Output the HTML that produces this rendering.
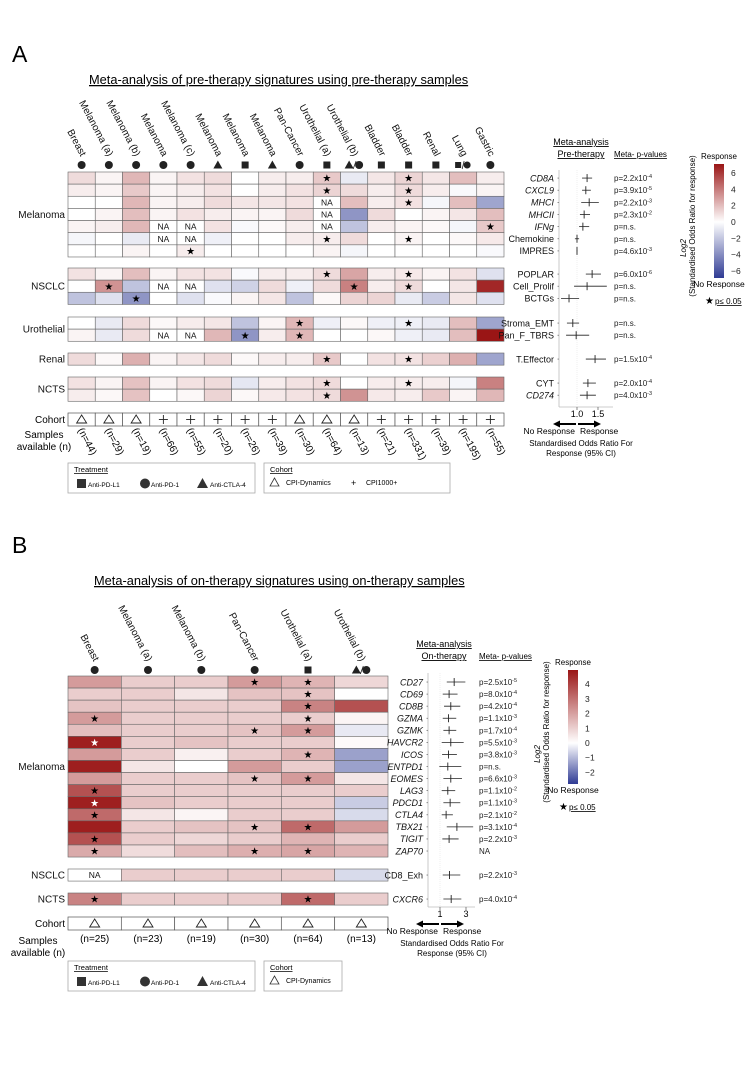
<!DOCTYPE html>
<html><head><meta charset="utf-8">
<style>
html,body{margin:0;padding:0;background:#fff;}
svg{display:block;font-family:"Liberation Sans",sans-serif;}
</style></head>
<body>
<svg id="fig" width="750" height="1083" viewBox="0 0 750 1083" xmlns="http://www.w3.org/2000/svg">
<defs>
<linearGradient id="gradA" x1="0" y1="0" x2="0" y2="1">
<stop offset="0" stop-color="#9a1515"/><stop offset="0.508" stop-color="#ffffff"/><stop offset="1" stop-color="#2f3b94"/>
</linearGradient>
<linearGradient id="gradB" x1="0" y1="0" x2="0" y2="1">
<stop offset="0" stop-color="#9a1515"/><stop offset="0.64" stop-color="#ffffff"/><stop offset="1" stop-color="#2f3b94"/>
</linearGradient>
</defs>
<text x="12" y="62" font-size="23">A</text>
<text x="89" y="84" font-size="12.8" text-decoration="underline">Meta-analysis of pre-therapy signatures  using pre-therapy samples</text>
<text x="12" y="553" font-size="23">B</text>
<text x="94" y="585" font-size="12.8" text-decoration="underline">Meta-analysis of on-therapy signatures  using on-therapy samples</text>
<g id="layer"></g>
</svg>
<script>
// ---------- Panel A data ----------
const colsA = ["Breast","Melanoma (a)","Melanoma (b)","Melanoma","Melanoma (c)","Melanoma","Melanoma","Melanoma","Pan-Cancer","Urothelial (a)","Urothelial (b)","Bladder","Bladder","Renal","Lung","Gastric"];
const treatA = ["c","c","c","c","c","t","s","t","c","s","tc","s","s","s","sc","c"];
const cohortA = ["d","d","d","p","p","p","p","p","d","d","d","p","p","p","p","p"];
const samplesA = [44,29,19,66,55,20,26,39,30,64,13,21,331,39,195,55];
const sigA = ["CD8A","CXCL9","MHCI","MHCII","IFNg","Chemokine","IMPRES","POPLAR","Cell_Prolif","BCTGs","Stroma_EMT","Pan_F_TBRS","T.Effector","CYT","CD274"];
const sigGroupA = [0,0,0,0,0,0,0,1,1,1,2,2,3,4,4];
const groupNamesA = ["Melanoma","NSCLC","Urothelial","Renal","NCTS"];
const heatA = [
[1,0.3,2,0.3,0.8,1,0,0.5,0.5,1.5,-0.7,0.7,1.2,0.7,1.8,0.5],
[0.5,0.3,1.5,0.3,0.5,0.8,0,0.5,0.8,1.2,1,0.5,1,0.5,-0.2,0.3],
[0,0,2,0.3,0.5,1,0.7,0.7,0.8,null,1.8,0.5,0.8,-0.3,1.8,-3],
[0,0.3,1.8,0.3,0.8,0.5,0.3,0.3,1,null,-3.5,1,0,0.3,0.7,1.8],
[0.3,0.5,2,null,null,0.8,-0.2,0.2,0.5,null,-2,0.5,0.3,0.2,-0.3,1.5],
[-0.3,0,-0.7,null,null,-0.5,0,0,0.5,0.5,1,0,0.3,0,0.2,0.6],
[0,0,0.3,0,0.5,0,0,0,0,0.3,-0.3,0,0,0,0,-0.2],
[0.8,0.3,1.8,0.3,0.8,0.8,-0.2,0.5,0.5,1,2.5,0.5,0.6,0.3,0.8,-1],
[0,3,-2,null,null,-1,-1.5,1,-0.5,1,3.5,0.5,1,0,0.7,6],
[-2,-1,-3.5,0,-1,-0.2,0.3,0.7,-2,0.2,1.2,1.2,-0.7,-1.7,0.7,-1],
[0,-0.7,1,0.2,0.5,0.7,-2,0.3,2,-0.5,0.2,-0.5,-0.5,-0.7,1.8,-3],
[0.3,-0.7,1,null,null,2,-3.5,0.5,2,0,0,0.2,-0.5,-0.7,1.8,6.5],
[1,0.2,2.2,0.3,0.7,1,0.2,0.5,0.5,1.5,0,0.8,0.8,1.3,2.2,-3],
[0.8,0.3,1.7,0.3,0.8,1,-0.8,0.5,0.8,1,0,0.5,0.5,0.5,-0.3,3.5],
[0.5,0.2,1.7,0,0.2,1.2,0.2,0.6,0.8,1,3,0.6,0.5,1.5,0.3,2]
];
const starsA = [[9,12],[9,12],[12],[],[15],[9,12],[4],[9,12],[1,10,12],[2],[8,12],[6,8],[9,12],[9,12],[9]];
const forestEstA = [1.24,1.21,1.29,1.17,1.14,1.0,1.0,1.36,1.24,0.81,0.90,0.98,1.43,1.26,1.24];
const forestLoA  = [1.12,1.12,1.10,1.07,1.05,0.95,0.99,1.21,0.93,0.62,0.76,0.74,1.21,1.14,1.07];
const forestHiA  = [1.36,1.33,1.52,1.31,1.29,1.05,1.01,1.57,1.71,1.05,1.05,1.29,1.69,1.45,1.45];
const pA = ["2.2x10^-4","3.9x10^-5","2.2x10^-3","2.3x10^-2","n.s.","n.s.","4.6x10^-3","6.0x10^-6","n.s.","n.s.","n.s.","n.s.","1.5x10^-4","2.0x10^-4","4.0x10^-3"];
const italicA = [1,1,1,1,1,0,0,0,0,0,0,0,0,0,1];
const ticksForestA = [1.0,1.5];
const ticksBarA = [6,4,2,0,-2,-4,-6];

// ---------- Panel B data ----------
const colsB = ["Breast","Melanoma (a)","Melanoma (b)","Pan-Cancer","Urothelial (a)","Urothelial (b)"];
const treatB = ["c","c","c","c","s","tc"];
const samplesB = [25,23,19,30,64,13];
const sigB = ["CD27","CD69","CD8B","GZMA","GZMK","HAVCR2","ICOS","ENTPD1","EOMES","LAG3","PDCD1","CTLA4","TBX21","TIGIT","ZAP70","CD8_Exh","CXCR6"];
const sigGroupB = [0,0,0,0,0,0,0,0,0,0,0,0,0,0,0,1,2];
const groupNamesB = ["Melanoma","NSCLC","NCTS"];
const heatB = [
[2,1,1,2,1.5,0.8],[1,1,0.5,1.2,1.2,0],[1.2,1,1,1,2.5,3.5],[2,1,1,1,1,0.2],[1.3,1,1,1.2,2,-0.3],
[4.5,1,1.2,1,1,0.1],[2,1,0.3,1,1.5,-1.3],[4.5,0.5,0,2,1,-1.3],[2,1,1,1.2,2,0.5],[3.5,1,1,1,1,1],
[4.5,1.2,1,1,1,-0.7],[3,0.5,0.2,1,1,-0.5],[4.5,1,1.2,1.2,3,2],[3.5,1,0.8,1,1.5,1],[1.7,0.7,1.3,1.6,1.8,1.5],
[null,1,1,1,1,-0.5],[2.5,1,1,1,3,1]
];
const starsB = [[3,4],[4],[4],[0,4],[3,4],[0],[4],[],[3,4],[0],[0],[0],[3,4],[0],[0,3,4],[],[0,4]];
const forestEstB = [2.09,1.70,1.83,1.65,1.70,1.83,1.65,1.60,1.83,1.60,1.78,1.47,2.30,1.70,null,1.73,1.86];
const forestLoB  = [1.52,1.21,1.31,1.21,1.26,1.13,1.16,0.95,1.26,1.13,1.26,1.13,1.52,1.18,null,1.21,1.26];
const forestHiB  = [2.95,2.35,2.56,2.25,2.25,2.82,2.30,2.64,2.69,2.17,2.56,1.99,3.55,2.43,null,2.56,2.64];
const pB = ["2.5x10^-5","8.0x10^-4","4.2x10^-4","1.1x10^-3","1.7x10^-4","5.5x10^-3","3.8x10^-3","n.s.","6.6x10^-3","1.1x10^-2","1.1x10^-3","2.1x10^-2","3.1x10^-4","2.2x10^-3","NA","2.2x10^-3","4.0x10^-4"];
const italicB = [1,1,1,1,1,1,1,1,1,1,1,1,1,1,1,0,1];
const ticksForestB = [1,3];
const ticksBarB = [4,3,2,1,0,-1,-2];

// ---------- helpers ----------
const NS = "http://www.w3.org/2000/svg";
const layer = document.getElementById("layer");
function mk(tag, attrs, parent, txt){
  const e = document.createElementNS(NS, tag);
  for (const k in attrs) e.setAttribute(k, attrs[k]);
  if (txt !== undefined) e.textContent = txt;
  (parent || layer).appendChild(e);
  return e;
}
function colour(v, vmax, vmin){
  if (v === null) return "#ffffff";
  let r,g,b;
  if (v >= 0){ const t = Math.min(1, v / vmax); r = 255 - t*(255-154); g = 255 - t*(255-21); b = 255 - t*(255-21); }
  else { const t = Math.min(1, v / vmin); r = 255 - t*(255-47); g = 255 - t*(255-59); b = 255 - t*(255-148); }
  return `rgb(${Math.round(r)},${Math.round(g)},${Math.round(b)})`;
}
function symbol(kind, cx, cy, g){
  if (kind === "c") mk("circle",{cx:cx,cy:cy,r:4,fill:"#222"},g);
  else if (kind === "s") mk("rect",{x:cx-3.5,y:cy-3.5,width:7,height:7,fill:"#222"},g);
  else if (kind === "t") mk("polygon",{points:`${cx-4.5},${cy+3.5} ${cx+4.5},${cy+3.5} ${cx},${cy-4.5}`,fill:"#222"},g);
  else if (kind === "tc"){ symbol("t",cx-5,cy,g); mk("line",{x1:cx-1,y1:cy+4,x2:cx+2,y2:cy-4,stroke:"#222","stroke-width":0.8},g); symbol("c",cx+5,cy,g); }
  else if (kind === "sc"){ mk("rect",{x:cx-8,y:cy-3,width:6,height:6,fill:"#222"},g); mk("line",{x1:cx-1,y1:cy+4,x2:cx+1,y2:cy-4,stroke:"#222","stroke-width":0.8},g); mk("circle",{cx:cx+4,cy:cy,r:3.5,fill:"#222"},g); }
}
function pText(x, y, s, g){
  const t = mk("text",{x:x,y:y,"font-size":8,fill:"#222"},g);
  if (s === "NA"){ t.textContent = "NA"; return t; }
  if (s.indexOf("^") < 0){ t.textContent = "p=" + s; return t; }
  const parts = s.split("^");
  mk("tspan",{},t,"p=" + parts[0]);
  mk("tspan",{"font-size":5.5,dy:-3},t,parts[1]);
  return t;
}

function drawPanel(cfg){
  const g = mk("g",{});
  
  
  const nC = cfg.cols.length;
  const cw = (cfg.x1 - cfg.x0) / nC;
  const xc = i => cfg.x0 + cw*i + cw/2;
  const rowY = [];
  cfg.sig.forEach((s, r) => {
    const grp = cfg.groups[r];
    const first = cfg.groups.indexOf(grp);
    rowY.push(cfg.groupTop[grp] + (r - first) * cfg.rh);
  });
  cfg.cols.forEach((c, i) => {
    const t = mk("text",{x:0,y:0,"font-size":10,"text-anchor":"end",transform:`translate(${xc(i)-1},${cfg.symY-8}) rotate(62)`,fill:"#111"},g,c);
    
    
    const sg = mk("g",{},g);
    
    
    symbol(cfg.treat[i], xc(i), cfg.symY, sg);
  });
  cfg.heat.forEach((row, r) => {
    row.forEach((v, i) => {
      const rc = mk("rect",{x:cfg.x0 + cw*i, y:rowY[r], width:cw, height:cfg.rh, fill:colour(v, cfg.vmax, cfg.vmin), stroke:"#666","stroke-width":0.6},g);
      
      
      if (v === null){
        const na = mk("text",{x:xc(i),y:rowY[r]+cfg.rh-3,"font-size":8.5,"text-anchor":"middle",fill:"#111"},g,"NA");
        
        
      }
    });
    cfg.stars[r].forEach(i => {
      const white = cfg.heat[r][i] !== null && cfg.heat[r][i] >= cfg.vmax*0.9;
      const st = mk("text",{x:xc(i),y:rowY[r]+cfg.rh-2.5,"font-size":10,"text-anchor":"middle",fill:white?"#fff":"#000"},g,"★");
      
      
    });
  });
  cfg.groupNames.forEach((n, k) => {
    const idx = cfg.groups.map((gg,r)=>gg===k?r:-1).filter(r=>r>=0);
    const yMid = (rowY[idx[0]] + rowY[idx[idx.length-1]] + cfg.rh) / 2;
    const t = mk("text",{x:cfg.x0-3,y:yMid+3.5,"font-size":10,"text-anchor":"end",fill:"#111"},g,n);
    
    
  });
  const cy0 = cfg.cohortY;
  const cl = mk("text",{x:cfg.x0-3,y:cy0+10,"font-size":10,"text-anchor":"end"},g,"Cohort");
  
  
  cfg.cols.forEach((c, i) => {
    mk("rect",{x:cfg.x0+cw*i,y:cy0,width:cw,height:13,fill:"#fff",stroke:"#555","stroke-width":0.7},g);
    if (cfg.cohort[i] === "d") mk("polygon",{points:`${xc(i)-5},${cy0+10} ${xc(i)+5},${cy0+10} ${xc(i)},${cy0+2}`,fill:"none",stroke:"#222","stroke-width":0.9},g);
    else { mk("line",{x1:xc(i)-4.5,y1:cy0+6.5,x2:xc(i)+4.5,y2:cy0+6.5,stroke:"#222","stroke-width":0.9},g); mk("line",{x1:xc(i),y1:cy0+2,x2:xc(i),y2:cy0+11,stroke:"#222","stroke-width":0.9},g); }
  });
  const s1 = mk("text",{x:cfg.sampX,y:cfg.sampY,"font-size":10,"text-anchor":"middle"},g,"Samples");
  
  
  mk("text",{x:cfg.sampX,y:cfg.sampY+12,"font-size":10,"text-anchor":"middle"},g,"available (n)");
  cfg.samples.forEach((n, i) => {
    let t;
    if (cfg.rotN) t = mk("text",{x:0,y:0,"font-size":10,transform:`translate(${xc(i)-4},${cy0+17}) rotate(62)`},g,`(n=${n})`);
    else t = mk("text",{x:xc(i),y:cy0+25,"font-size":10,"text-anchor":"middle"},g,`(n=${n})`);
    
    
  });

  const f = mk("g",{});
  
  
  const fx = v => cfg.fOneX + (v - cfg.fRef) * cfg.fScale;
  mk("line",{x1:cfg.fLeft,y1:cfg.fTop,x2:cfg.fLeft,y2:cfg.fBot,stroke:"#bbb","stroke-width":0.8},f);
  mk("line",{x1:cfg.fLeft,y1:cfg.fBot,x2:cfg.fRight,y2:cfg.fBot,stroke:"#bbb","stroke-width":0.8},f);
  mk("line",{x1:fx(cfg.fRef),y1:cfg.fTop,x2:fx(cfg.fRef),y2:cfg.fBot,stroke:"#e4e4e4","stroke-width":0.6,"stroke-dasharray":"1,1"},f);
  cfg.fTicks.forEach(tk => {
    mk("line",{x1:fx(tk),y1:cfg.fBot,x2:fx(tk),y2:cfg.fBot+3,stroke:"#555","stroke-width":0.7},f);
    const tl = mk("text",{x:fx(tk),y:cfg.fBot+10,"font-size":9,"text-anchor":"middle"},f,cfg.fTickFmt(tk));
    
    
  });
  cfg.sig.forEach((s, r) => {
    const y = rowY[r] + cfg.rh/2;
    const lab = mk("text",{x:cfg.fLeft-5,y:y+3.3,"font-size":9,"text-anchor":"end","font-style":cfg.italic[r]?"italic":"normal",fill:"#111"},f,s);
    
    
    mk("line",{x1:cfg.fLeft-1.5,y1:y,x2:cfg.fLeft,y2:y,stroke:"#666","stroke-width":0.7},f);
    if (cfg.est[r] !== null){
      const ci = mk("line",{x1:fx(cfg.lo[r]),y1:y,x2:fx(cfg.hi[r]),y2:y,stroke:"#222","stroke-width":0.8},f);
      
      
      const pt = mk("line",{x1:fx(cfg.est[r]),y1:y-4,x2:fx(cfg.est[r]),y2:y+4,stroke:"#222","stroke-width":0.9},f);
      
      
    }
    const p = pText(cfg.pX, y+3, cfg.p[r], f);
    
    
  });
  mk("text",{x:cfg.metaX,y:cfg.metaY,"font-size":9,"text-decoration":"underline","text-anchor":"middle"},f,"Meta-analysis");
  mk("text",{x:cfg.metaX,y:cfg.metaY+12,"font-size":9,"text-decoration":"underline","text-anchor":"middle"},f,cfg.metaSub);
  mk("text",{x:cfg.pX,y:cfg.metaY+12,"font-size":8,"text-decoration":"underline"},f,"Meta- p-values");
  const ay = cfg.fBot + 17, ox = fx(cfg.fRef);
  mk("line",{x1:ox-1,y1:ay,x2:ox-20,y2:ay,stroke:"#000","stroke-width":2},f);
  mk("polygon",{points:`${ox-24},${ay} ${ox-17},${ay-3.5} ${ox-17},${ay+3.5}`},f);
  mk("line",{x1:ox+1,y1:ay,x2:ox+20,y2:ay,stroke:"#000","stroke-width":2},f);
  mk("polygon",{points:`${ox+24},${ay} ${ox+17},${ay-3.5} ${ox+17},${ay+3.5}`},f);
  mk("text",{x:ox-2,y:ay+10,"font-size":8.5,"text-anchor":"end"},f,"No Response");
  mk("text",{x:ox+3,y:ay+10,"font-size":8.5},f,"Response");
  mk("text",{x:cfg.stdX,y:ay+22,"font-size":8,"text-anchor":"middle"},f,"Standardised Odds Ratio For");
  mk("text",{x:cfg.stdX,y:ay+32,"font-size":8,"text-anchor":"middle"},f,"Response (95% CI)");

  const cb = mk("g",{});
  
  
  mk("rect",{x:cfg.cbX,y:cfg.cbTop,width:10,height:cfg.cbBot-cfg.cbTop,fill:`url(#${cfg.grad})`},cb);
  const by = v => cfg.cbZero - v * cfg.cbScale;
  cfg.cbTicks.forEach(tk => {
    mk("text",{x:cfg.cbX+17,y:by(tk)+3,"font-size":8.5,fill:"#222"},cb,tk<0?"−"+Math.abs(tk):String(tk));
  });
  mk("text",{x:cfg.cbX+5,y:cfg.cbTop-5,"font-size":8,"text-anchor":"middle"},cb,"Response");
  mk("text",{x:cfg.cbX+5,y:cfg.cbBot+9,"font-size":8.5,"text-anchor":"middle"},cb,"No Response");
  mk("text",{x:cfg.cbX-9,y:cfg.cbBot+26,"font-size":10},cb,"★");
  mk("text",{x:cfg.cbX+1,y:cfg.cbBot+26,"font-size":8,"text-decoration":"underline"},cb,"p≤ 0.05");
  const cym = (cfg.cbTop+cfg.cbBot)/2 + 5;
  mk("text",{x:0,y:0,"font-size":8,"text-anchor":"middle","font-style":"italic",transform:`translate(${cfg.cbX-28},${cym+22}) rotate(-90)`},cb,"Log2");
  mk("text",{x:0,y:0,"font-size":8,"text-anchor":"middle",transform:`translate(${cfg.cbX-19},${cym}) rotate(-90)`},cb,"(Standardised Odds  Ratio for response)");

  const lg = mk("g",{});
  
  
  const ly = cfg.legY;
  mk("rect",{x:68,y:ly,width:187,height:30,fill:"#fff",stroke:"#aaa","stroke-width":0.8},lg);
  mk("text",{x:74,y:ly+9,"font-size":7.5,"text-decoration":"underline"},lg,"Treatment");
  mk("rect",{x:77,y:ly+16,width:9,height:9,fill:"#333"},lg);
  mk("text",{x:88,y:ly+24,"font-size":6.5},lg,"Anti-PD-L1");
  mk("circle",{cx:145,cy:ly+20.5,r:5,fill:"#333"},lg);
  mk("text",{x:151,y:ly+24,"font-size":6.5},lg,"Anti-PD-1");
  mk("polygon",{points:`${197},${ly+25} ${208},${ly+25} ${202.5},${ly+15}`,fill:"#333"},lg);
  mk("text",{x:210,y:ly+24,"font-size":6.5},lg,"Anti-CTLA-4");
  const lc = mk("g",{});
  
  
  mk("rect",{x:264,y:ly,width:cfg.cohortW,height:30,fill:"#fff",stroke:"#aaa","stroke-width":0.8},lc);
  mk("text",{x:270,y:ly+9,"font-size":7.5,"text-decoration":"underline"},lc,"Cohort");
  mk("polygon",{points:`270,${ly+23} 279,${ly+23} 274.5,${ly+15}`,fill:"none",stroke:"#333","stroke-width":0.8},lc);
  mk("text",{x:286,y:ly+22,"font-size":7},lc,"CPI-Dynamics");
  if (cfg.cohortW > 100){
    mk("text",{x:351,y:ly+23,"font-size":9},lc,"+");
    mk("text",{x:366,y:ly+22,"font-size":7},lc,"CPI1000+");
  }
}

drawPanel({
  name:"pre-therapy", cols:colsA, treat:treatA, cohort:cohortA, samples:samplesA, sig:sigA, groups:sigGroupA,
  groupNames:groupNamesA, heat:heatA, stars:starsA, vmax:6.5, vmin:-6.5,
  x0:68, x1:504, rh:12.14, groupTop:[172,268,317,353,377], symY:165,
  cohortY:413, rotN:true, sampX:44, sampY:438,
  est:forestEstA, lo:forestLoA, hi:forestHiA, p:pA, italic:italicA,
  fLeft:559, fRight:613, fTop:170, fBot:407, fOneX:577, fRef:1.0, fScale:42, fTicks:ticksForestA, fTickFmt:t=>t.toFixed(1),
  pX:614, metaX:581, metaY:145, metaSub:"Pre-therapy", stdX:581,
  cbX:714, cbTop:164, cbBot:278, cbZero:222, cbScale:8.17, cbTicks:ticksBarA, grad:"gradA",
  legY:463, cohortW:186
});
drawPanel({
  name:"on-therapy", cols:colsB, treat:treatB, cohort:["d","d","d","d","d","d"], samples:samplesB, sig:sigB, groups:sigGroupB,
  groupNames:groupNamesB, heat:heatB, stars:starsB, vmax:4.7, vmin:-2.7,
  x0:68, x1:388, rh:12.07, groupTop:[676,869,893], symY:670,
  cohortY:917, rotN:false, sampX:38, sampY:944,
  est:forestEstB, lo:forestLoB, hi:forestHiB, p:pB, italic:italicB,
  fLeft:428, fRight:475, fTop:673, fBot:907, fOneX:440, fRef:1, fScale:13, fTicks:ticksForestB, fTickFmt:t=>String(t),
  pX:479, metaX:444, metaY:647, metaSub:"On-therapy", stdX:452,
  cbX:568, cbTop:670, cbBot:784, cbZero:743, cbScale:14.7, cbTicks:ticksBarB, grad:"gradB",
  legY:961, cohortW:78
});
</script>
</body></html>
